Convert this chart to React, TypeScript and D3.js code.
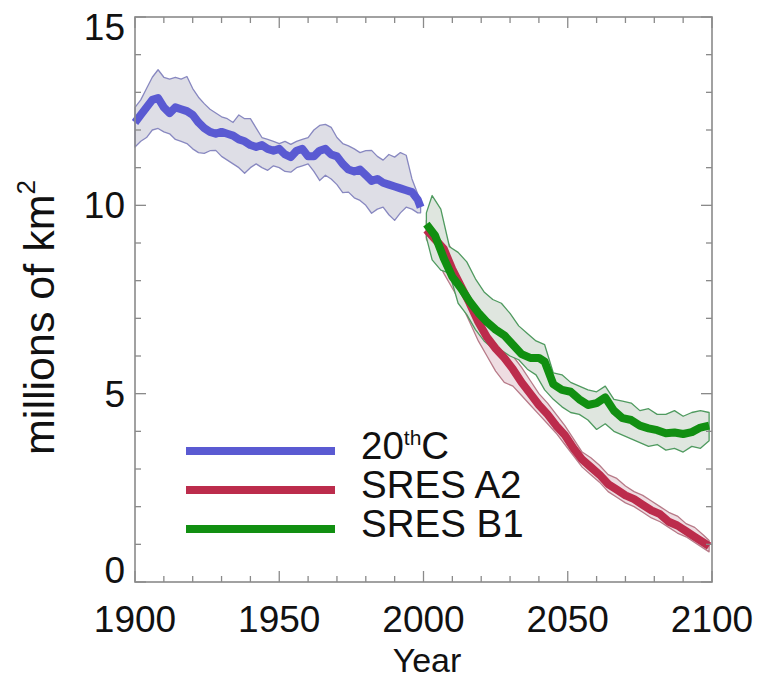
import React from "react";
import * as d3 from "d3";

// ---------- DATA ----------
// 20th century (historical)
const c20Years = [1900,1902,1904,1906,1908,1910,1912,1914,1916,1918,1920,1922,1924,1926,1928,1930,1932,1934,1936,1938,1940,1942,1944,1946,1948,1950,1952,1954,1956,1958,1960,1962,1964,1966,1968,1970,1972,1974,1976,1978,1980,1982,1984,1986,1988,1990,1992,1994,1996,1998,1999];
const c20Mean = [12.2,12.4,12.6,12.8,12.85,12.6,12.45,12.6,12.55,12.5,12.4,12.2,12.05,11.95,11.9,11.95,11.9,11.85,11.75,11.7,11.6,11.55,11.6,11.5,11.45,11.5,11.35,11.28,11.45,11.5,11.3,11.3,11.45,11.5,11.35,11.3,11.1,10.95,10.9,10.95,10.8,10.65,10.7,10.6,10.55,10.5,10.45,10.4,10.35,10.15,9.95];
const c20Upper = [12.6,12.8,13.1,13.4,13.6,13.4,13.35,13.4,13.35,13.42,13.1,12.87,12.7,12.55,12.45,12.35,12.3,12.2,12.4,12.3,12.3,12.05,11.8,11.75,11.7,11.64,11.7,11.62,11.7,11.75,11.8,12.0,12.12,12.15,12.07,11.8,11.64,11.58,11.5,11.4,11.45,11.46,11.3,11.2,11.35,11.28,11.4,11.33,10.7,10.3,10.0];
const c20Lower = [11.55,11.7,11.8,12.0,12.04,11.95,11.9,11.75,11.7,11.64,11.5,11.4,11.38,11.45,11.46,11.3,11.2,11.1,11.0,10.85,11.0,11.1,11.0,10.93,11.05,11.0,10.9,10.88,11.0,11.05,11.1,10.9,10.66,10.8,10.7,10.55,10.34,10.35,10.2,10.13,10.0,9.79,9.9,9.95,9.75,9.6,9.8,9.95,9.9,9.8,9.8];

// SRES A2
const a2Years = [2001,2004,2007,2010,2013,2016,2019,2022,2025,2028,2031,2034,2037,2040,2043,2046,2049,2052,2055,2058,2061,2064,2067,2070,2073,2076,2079,2082,2085,2088,2091,2094,2097,2099];
const a2Mean = [9.35,9.1,8.85,8.3,7.85,7.4,6.9,6.5,6.2,5.95,5.65,5.3,5.0,4.7,4.45,4.15,3.9,3.55,3.25,3.05,2.85,2.6,2.45,2.3,2.2,2.05,1.9,1.8,1.6,1.5,1.35,1.2,1.05,0.95];
const a2Upper = [9.6,9.5,9.2,8.8,8.5,8.1,7.7,7.1,6.8,6.4,6.0,5.7,5.35,5.0,4.75,4.45,4.15,3.8,3.45,3.3,3.1,2.85,2.75,2.55,2.4,2.3,2.15,2.0,1.85,1.75,1.55,1.45,1.25,1.1];
const a2Lower = [9.1,8.7,8.2,7.8,7.4,6.9,6.4,6.0,5.6,5.3,5.2,4.95,4.7,4.45,4.2,3.95,3.65,3.35,3.05,2.85,2.65,2.4,2.25,2.1,2.0,1.85,1.7,1.6,1.45,1.3,1.2,1.05,0.9,0.8];

// SRES B1
const b1Years = [2001,2004,2007,2010,2013,2016,2019,2022,2025,2028,2031,2034,2037,2040,2042,2045,2048,2051,2054,2057,2060,2063,2066,2069,2072,2075,2078,2081,2084,2087,2090,2093,2096,2099];
const b1Mean = [9.5,9.2,8.6,8.1,7.8,7.45,7.15,6.9,6.7,6.55,6.3,6.05,5.95,5.95,5.85,5.25,5.1,5.05,4.85,4.7,4.75,4.9,4.55,4.35,4.3,4.15,4.08,4.03,3.95,3.97,3.93,3.98,4.1,4.15];
const b1BandYears = [2001,2003,2006,2009,2012,2015,2018,2021,2024,2027,2030,2033,2036,2039,2042,2045,2048,2051,2054,2057,2060,2063,2066,2069,2072,2075,2078,2081,2084,2087,2090,2093,2096,2099];
const b1Upper = [9.8,10.26,9.9,8.9,8.75,8.5,8.05,7.7,7.5,7.4,7.13,6.8,6.6,6.4,6.3,5.55,5.5,5.3,5.2,5.1,5.05,5.2,4.85,4.8,4.75,4.55,4.6,4.45,4.45,4.55,4.4,4.5,4.55,4.5];
const b1Lower = [9.15,8.55,8.28,8.2,7.4,7.1,6.7,6.4,6.2,6.15,6.0,5.9,5.65,5.5,5.1,4.85,4.65,4.5,4.45,4.3,4.05,4.2,4.0,3.9,3.8,3.7,3.6,3.65,3.5,3.55,3.45,3.6,3.55,3.75];

const xMajorTicks = [1900, 1950, 2000, 2050, 2100];
const xMinorTicks = d3.range(1900, 2101, 10);
const yMajorTicks = [0, 5, 10, 15];
const yMinorTicks = d3.range(0, 16, 1);

const legendLabels = ["20thC", "SRES A2", "SRES B1"];

// ---------- STYLE ----------
const W = 758, H = 680;
const L = 135, R = 712, T = 17, B = 582;
const FONT = "'Liberation Sans', Arial, Helvetica, sans-serif";
const frameColor = "#8a8a8a";

const series = [
  { name: "20thC", years: c20Years, mean: c20Mean, bandYears: c20Years, upper: c20Upper, lower: c20Lower,
    line: "#5a5ad2", fill: "#dedee6", edge: "#8888c0" },
  { name: "SRES A2", years: a2Years, mean: a2Mean, bandYears: a2Years, upper: a2Upper, lower: a2Lower,
    line: "#bc2c4c", fill: "#eedde2", edge: "#b77a88" },
  { name: "SRES B1", years: b1Years, mean: b1Mean, bandYears: b1BandYears, upper: b1Upper, lower: b1Lower,
    line: "#118f11", fill: "#dfe6df", edge: "#4f9a5f" },
];

export default function App() {
  const x = d3.scaleLinear().domain([1900, 2100]).range([L, R]);
  const y = d3.scaleLinear().domain([0, 15]).range([B, T]);

  const area = d3.area<[number, number, number]>()
    .x(d => x(d[0])).y0(d => y(d[2])).y1(d => y(d[1]));
  const line = d3.line<[number, number]>().x(d => x(d[0])).y(d => y(d[1]));

  const bands = series.map(s => area(s.bandYears.map((yr, i) => [yr, s.upper[i], s.lower[i]] as [number, number, number])) || "");
  const lines = series.map(s => line(s.years.map((yr, i) => [yr, s.mean[i]] as [number, number])) || "");

  const majX = new Set(xMajorTicks);
  const majY = new Set(yMajorTicks);

  const legendY0 = 451, legendDy = 39;

  return (
    <svg width={W} height={H} style={{ position: "absolute", left: 0, top: 0, background: "#fff" }}>
      <rect x={0} y={0} width={W} height={H} fill="#fff" />
      {/* bands */}
      {series.map((s, i) => (
        <path key={"b" + i} d={bands[i]} fill={s.fill} stroke={s.edge} strokeWidth={1.3} strokeLinejoin="round" />
      ))}
      {/* mean lines */}
      {series.map((s, i) => (
        <path key={"l" + i} d={lines[i]} fill="none" stroke={s.line} strokeWidth={8} strokeLinejoin="round" strokeLinecap="butt" />
      ))}
      {/* frame */}
      <rect x={L} y={T} width={R - L} height={B - T} fill="none" stroke={frameColor} strokeWidth={1.6} />
      {/* x ticks (bottom + top) */}
      {xMinorTicks.map(t => {
        const len = majX.has(t) ? 11 : 6;
        return (
          <g key={"xt" + t} stroke={frameColor} strokeWidth={1.3}>
            <line x1={x(t)} x2={x(t)} y1={B} y2={B - len} />
            <line x1={x(t)} x2={x(t)} y1={T} y2={T + len} />
          </g>
        );
      })}
      {/* y ticks (left + right) */}
      {yMinorTicks.map(t => {
        const len = majY.has(t) ? 11 : 6;
        return (
          <g key={"yt" + t} stroke={frameColor} strokeWidth={1.3}>
            <line x1={L} x2={L + len} y1={y(t)} y2={y(t)} />
            <line x1={R} x2={R - len} y1={y(t)} y2={y(t)} />
          </g>
        );
      })}
      {/* x labels */}
      {xMajorTicks.map(t => (
        <text key={"xl" + t} x={x(t)} y={632} textAnchor="middle" fontFamily={FONT} fontSize={37} fill="#111">{t}</text>
      ))}
      {/* y labels */}
      {yMajorTicks.map(t => {
        let cy = y(t);
        if (t === 15) cy += 10;
        if (t === 0) cy -= 12;
        return (
          <text key={"yl" + t} x={125} y={cy + 13} textAnchor="end" fontFamily={FONT} fontSize={37} fill="#111">{t}</text>
        );
      })}
      {/* axis titles */}
      <text x={427} y={672} textAnchor="middle" fontFamily={FONT} fontSize={34} fill="#111">Year</text>
      <text transform={`translate(54,${(T + B) / 2 + 18}) rotate(-90)`} textAnchor="middle" fontFamily={FONT} fontSize={43} fill="#111">
        millions of km<tspan fontSize={26} dy={-19}>2</tspan>
      </text>
      {/* legend */}
      {series.map((s, i) => {
        const ly = legendY0 + i * legendDy;
        return (
          <g key={"lg" + i}>
            <line x1={186} x2={335} y1={ly} y2={ly} stroke={s.line} strokeWidth={8} />
            <text x={361} y={ly + 8} fontFamily={FONT} fontSize={38.5} fill="#111">
              {legendLabels[i] === "20thC" ? (
                <>20<tspan fontSize={21} dy={-14}>th</tspan><tspan dy={14}>C</tspan></>
              ) : legendLabels[i]}
            </text>
          </g>
        );
      })}
    </svg>
  );
}
